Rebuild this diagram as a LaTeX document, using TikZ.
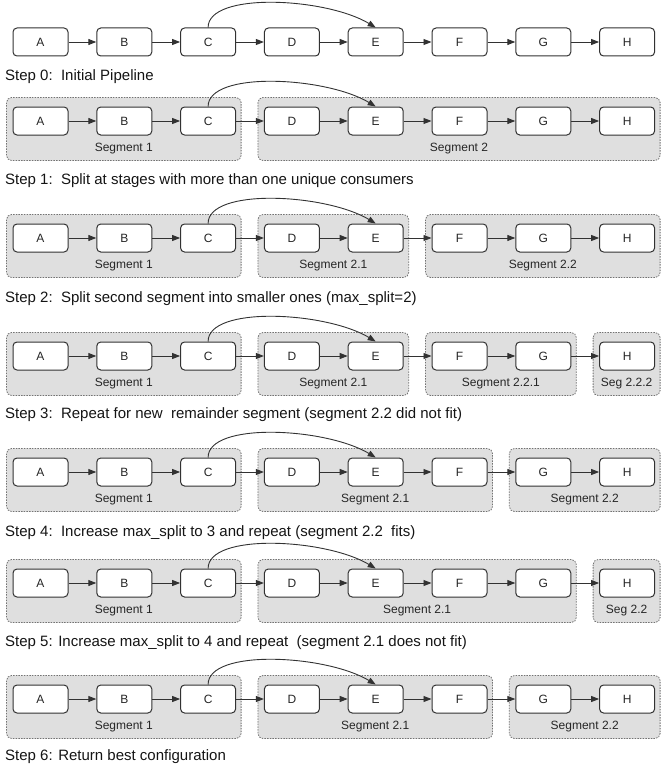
\documentclass[tikz,border=0pt]{standalone}
\usepackage{fontspec}
\setmainfont{Liberation Sans}
\usetikzlibrary{calc,backgrounds,arrows.meta}

\definecolor{segfill}{RGB}{223,223,223}
\definecolor{segline}{RGB}{115,115,115}
\definecolor{boxline}{RGB}{50,50,50}

\tikzset{
    stage/.style={draw=boxline, line width=1pt, fill=white, rounded corners=4pt,
        minimum width=55pt, minimum height=28pt, inner sep=0pt,
        font=\fontsize{12}{12}\selectfont, text=black!85},
    flow/.style={draw=boxline, line width=0.9pt, -{Triangle[length=8pt,width=6pt]}},
    segbg/.style={fill=segfill, draw=segline, line width=0.8pt,
        dash pattern=on 1.5pt off 1.2pt, rounded corners=5pt},
    seglabel/.style={font=\fontsize{12}{12}\selectfont, text=black!85, inner sep=0pt},
    steptext/.style={anchor=base west, inner sep=0pt,
        font=\fontsize{15}{15}\selectfont, text=black!92},
}

% grey segment box behind stages #2..#3 of row #1, with its label
\newcommand{\segment}[4]{%
    \begin{scope}[on background layer]
        \draw[segbg] ($(#2#1.north west)+(-6,-9)$) rectangle ($(#3#1.south east)+(5,25)$);
    \end{scope}
    \node[seglabel] (lab#2#1) at ($(#2#1.south west)!0.5!(#3#1.south east)+(-0.5,13)$) {#4};
}

\begin{document}
\begin{tikzpicture}[x=1pt, y=-1pt]
    \useasboundingbox (0,0) rectangle (666,768);

    % one pipeline per row: stages A..H, the chain and the skip edge C -> E
    \foreach \r/\y in {0/42, 1/121, 2/238, 3/356, 4/472, 5/583, 6/699} {
        \foreach \n [count=\i from 0] in {A,B,C,D,E,F,G,H}
            \node[stage] (\n\r) at ({40.5+83.8*\i}, \y) {\n};
        \foreach \a/\b in {A/B, B/C, C/D, D/E, E/F, F/G, G/H}
            \draw[flow] (\a\r) -- (\b\r);
        \draw[flow] (C\r.north) .. controls +(0,-36) and +(-50,-30) .. (E\r.north);
    }

    % step 1
    \segment{1}{A}{C}{Segment 1}
    \segment{1}{D}{H}{Segment 2}
    % step 2
    \segment{2}{A}{C}{Segment 1}
    \segment{2}{D}{E}{Segment 2.1}
    \segment{2}{F}{H}{Segment 2.2}
    % step 3
    \segment{3}{A}{C}{Segment 1}
    \segment{3}{D}{E}{Segment 2.1}
    \segment{3}{F}{G}{Segment 2.2.1}
    \segment{3}{H}{H}{Seg 2.2.2}
    % step 4
    \segment{4}{A}{C}{Segment 1}
    \segment{4}{D}{F}{Segment 2.1}
    \segment{4}{G}{H}{Segment 2.2}
    % step 5
    \segment{5}{A}{C}{Segment 1}
    \segment{5}{D}{G}{Segment 2.1}
    \segment{5}{H}{H}{Seg 2.2}
    % step 6
    \segment{6}{A}{C}{Segment 1}
    \segment{6}{D}{F}{Segment 2.1}
    \segment{6}{G}{H}{Segment 2.2}

    % captions
    \node[steptext] (step0) at (5,81) {Step 0:\ \ Initial Pipeline};
    \node[steptext] (step1) at (5,184) {Step 1:\ \ Split at stages with more than one unique consumers};
    \node[steptext] (step2) at (5,302) {Step 2:\ \ Split second segment into smaller ones (max\_split=2)};
    \node[steptext] (step3) at (5,418) {Step 3:\ \ Repeat for new\ \ remainder segment (segment 2.2 did not fit)};
    \node[steptext] (step4) at (5,536) {Step 4:\ \ Increase max\_split to 3 and repeat (segment 2.2\ \ fits)};
    \node[steptext] (step5) at (5,646) {Step 5: Increase max\_split to 4 and repeat\ \ (segment 2.1 does not fit)};
    \node[steptext] (step6) at (5,760) {Step 6: Return best configuration};
\end{tikzpicture}
\end{document}
